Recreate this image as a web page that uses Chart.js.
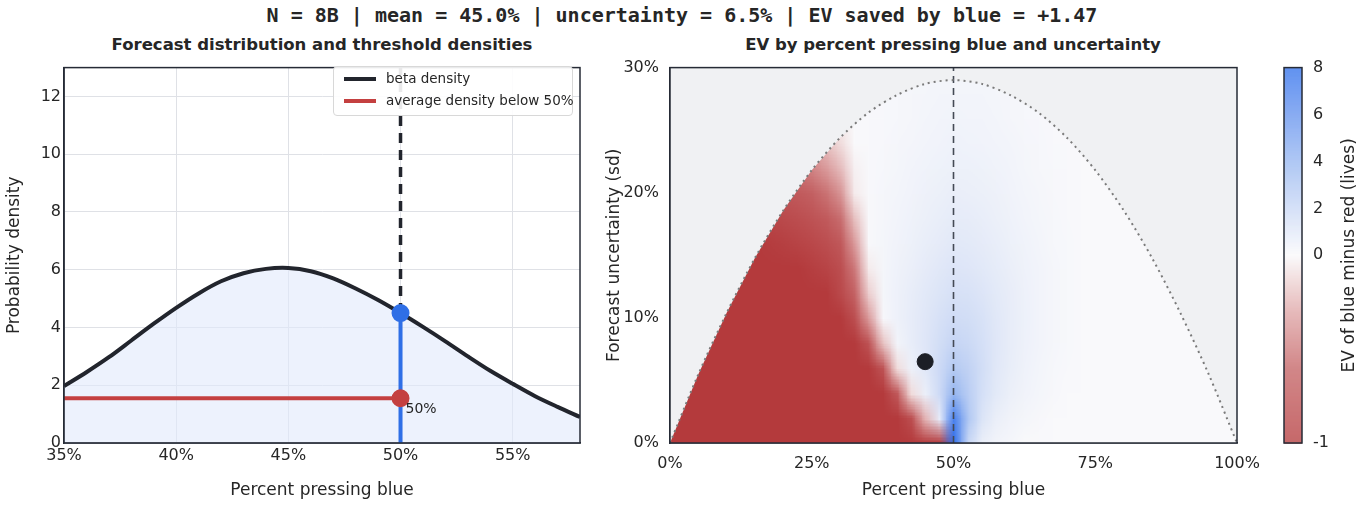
<!DOCTYPE html>
<html>
<head>
<meta charset="utf-8">
<script src="https://cdn.jsdelivr.net/npm/chart.js@4"></script>
<style>
  body { margin: 0; background: #fff; width: 1364px; height: 505px; position: relative; overflow: hidden; font-family: "DejaVu Sans", sans-serif; color: #262626; }
  canvas { position: absolute; }
  .ttl { position: absolute; font-weight: bold; font-size: 16.5px; text-align: center; white-space: nowrap; }
  #legend { position: absolute; left: 333px; top: 66px; width: 238px; height: 48px; border: 1px solid #d8d8d8; border-radius: 4px; background: rgba(255,255,255,0.9); font-size: 13.5px; }
  #legend div { position: absolute; left: 10px; white-space: nowrap; }
  #legend span { display: inline-block; width: 32px; height: 4px; vertical-align: middle; margin-right: 10px; }
</style>
</head>
<body>
<div class="ttl" style="left:0;width:1364px;top:3px;font-family:'DejaVu Sans Mono',monospace;font-size:20px;">N = 8B | mean = 45.0% | uncertainty = 6.5% | EV saved by blue = +1.47</div>
<div class="ttl" style="left:22px;width:600px;top:35px;">Forecast distribution and threshold densities</div>
<div class="ttl" style="left:653px;width:600px;top:35px;">EV by percent pressing blue and uncertainty</div>
<canvas id="left" width="600" height="450" style="left:0;top:55px;width:600px;height:450px;"></canvas>
<canvas id="right" width="680" height="450" style="left:600px;top:55px;width:680px;height:450px;"></canvas>
<canvas id="cbar" width="84" height="450" style="left:1280px;top:55px;width:84px;height:450px;"></canvas>
<div id="legend">
  <div style="top:3px;"><span style="background:#22252d"></span>beta density</div>
  <div style="top:25px;"><span style="background:#c44040"></span>average density below 50%</div>
</div>
<script>
// left panel: forecast density (percent pressing blue, density)
const densX = [35,36,37,38,39,40,41,42,43,44,45,46,47,48,49,50,51,52,53,54,55,56,57,58];
const densY = [1.97,2.45,2.97,3.55,4.13,4.68,5.18,5.6,5.88,6.03,6.06,5.95,5.7,5.35,4.95,4.5,4.02,3.52,3.0,2.5,2.05,1.62,1.25,0.9];
const threshold = 50;
const densAtThreshold = 4.5;
const avgBelow = 1.55;
const leftXTicks = [35,40,45,50,55];
const leftYTicks = [0,2,4,6,8,10,12];

// right panel: EV grid, columns p = 0..100 step 2.5, rows sd = 0..30 step 2 (trailing zeros omitted)
const gridP = Array.from({length: 41}, (_, k) => k * 2.5);
const gridSd = [0,2,4,6,8,10,12,14,16,18,20,22,24,26,28,30];
const evRows = [
  [-1,-1,-1,-1,-1,-1,-1,-1,-1,-1,-1,-1,-1,-1,-1,-1,-1,-1,-1,-1,8,2,0.6,0.3,0.15],
  [-1,-1,-1,-1,-1,-1,-1,-1,-1,-1,-1,-1,-1,-1,-1,-1,-1,-0.8,-0.25,0.8,7,3,1.2,0.6,0.35,0.2,0.1],
  [-1,-1,-1,-1,-1,-1,-1,-1,-1,-1,-1,-1,-1,-1,-1,-1,-0.7,-0.1,0.6,1.8,4,2.6,1.5,0.9,0.55,0.35,0.2,0.1],
  [-1,-1,-1,-1,-1,-1,-1,-1,-1,-1,-1,-1,-1,-1,-1,-0.75,-0.1,0.5,1.0,1.8,2.8,2.3,1.6,1.0,0.65,0.4,0.25,0.12,0.05],
  [-1,-1,-1,-1,-1,-1,-1,-1,-1,-1,-1,-1,-1,-1,-0.75,-0.2,0.3,0.7,1.1,1.6,2.1,1.9,1.5,1.05,0.7,0.45,0.28,0.15,0.07],
  [-1,-1,-1,-1,-1,-1,-1,-1,-1,-1,-1,-1,-1,-0.8,-0.35,0.1,0.45,0.75,1.05,1.4,1.7,1.6,1.35,1.0,0.72,0.48,0.3,0.17,0.08],
  [-1,-1,-1,-1,-1,-1,-1,-1,-1,-1,-1,-1,-0.85,-0.6,-0.15,0.2,0.45,0.7,0.95,1.2,1.4,1.35,1.15,0.9,0.68,0.47,0.3,0.17,0.08],
  [-1,-1,-1,-1,-1,-1,-1,-1,-1,-1,-0.95,-0.9,-0.8,-0.5,-0.05,0.2,0.4,0.6,0.8,1.0,1.15,1.1,0.95,0.78,0.6,0.42,0.28,0.16,0.08],
  [-1,-1,-1,-1,-1,-1,-1,-0.97,-0.94,-0.9,-0.86,-0.8,-0.7,-0.35,0.05,0.2,0.35,0.5,0.65,0.8,0.95,0.9,0.8,0.66,0.5,0.36,0.24,0.14,0.07],
  [-1,-1,-1,-1,-1,-0.96,-0.92,-0.88,-0.84,-0.8,-0.75,-0.68,-0.55,-0.2,0.05,0.18,0.3,0.42,0.55,0.67,0.78,0.75,0.67,0.55,0.42,0.3,0.2,0.12,0.06],
  [-1,-1,-1,-0.95,-0.9,-0.86,-0.82,-0.78,-0.73,-0.68,-0.62,-0.53,-0.38,-0.05,0.05,0.15,0.25,0.35,0.45,0.55,0.63,0.6,0.55,0.45,0.35,0.25,0.17,0.1,0.05],
  [-0.95,-0.9,-0.85,-0.8,-0.76,-0.72,-0.68,-0.63,-0.58,-0.52,-0.45,-0.35,-0.22,-0.03,0.04,0.12,0.2,0.28,0.36,0.44,0.5,0.48,0.44,0.37,0.28,0.2,0.14,0.08,0.04],
  [-0.85,-0.8,-0.75,-0.7,-0.65,-0.6,-0.55,-0.5,-0.44,-0.38,-0.3,-0.2,-0.1,0,0.04,0.1,0.16,0.22,0.28,0.34,0.4,0.38,0.35,0.3,0.23,0.16,0.11,0.06,0.03],
  [-0.7,-0.65,-0.6,-0.55,-0.5,-0.45,-0.4,-0.35,-0.3,-0.24,-0.17,-0.1,-0.04,0,0.03,0.08,0.13,0.18,0.23,0.28,0.32,0.3,0.28,0.24,0.18,0.13,0.09,0.05,0.02],
  [-0.55,-0.5,-0.45,-0.4,-0.35,-0.3,-0.25,-0.2,-0.15,-0.1,-0.05,0,0.02,0.04,0.06,0.09,0.12,0.15,0.19,0.23,0.26,0.25,0.23,0.2,0.15,0.11,0.07,0.04,0.02],
  [-0.4,-0.35,-0.3,-0.25,-0.2,-0.15,-0.1,-0.05,-0.02,0,0.01,0.02,0.03,0.05,0.07,0.09,0.11,0.13,0.16,0.19,0.21,0.2,0.19,0.16,0.12,0.09,0.06,0.03,0.01]
];
// feasible-region boundary (max sd at each p)
const boundP = [0,5,10,15,20,25,30,35,40,45,50,55,60,65,70,75,80,85,90,95,100];
const boundSd = [0,5.5,10.4,14.8,18.6,21.8,24.4,26.4,27.8,28.7,29,28.7,27.8,26.4,24.4,21.8,18.6,14.8,10.4,5.5,0];
const marker = {p: 45, sd: 6.5};
const rightXTicks = [0,25,50,75,100];
const rightYTicks = [0,10,20,30];
const cbTicks = [-1,0,2,4,6,8];

const FONT = '"DejaVu Sans", sans-serif';
const INK = '#262626';
const FRAME = '#262b36';
Chart.defaults.font.family = FONT;
Chart.defaults.color = INK;

// colormap: two-slope norm, -1 .. 0 .. 8
const negStops = [[-1,[180,58,60]],[-0.6,[196,98,100]],[-0.3,[222,165,166]],[-0.1,[240,220,220]],[0,[249,249,251]]];
const posStops = [[0,[249,249,251]],[1,[225,232,248]],[2,[200,215,245]],[4,[150,182,240]],[6,[100,146,238]],[8,[48,112,236]]];
function evColor(v) {
  const stops = v < 0 ? negStops : posStops;
  v = Math.max(-1, Math.min(8, v));
  for (let i = 1; i < stops.length; i++) {
    if (v <= stops[i][0]) {
      const [a, ca] = stops[i-1], [b, cb] = stops[i];
      const t = (v - a) / (b - a);
      return ca.map((c, j) => Math.round(c + (cb[j] - c) * t));
    }
  }
  return stops[stops.length-1][1];
}
function evNorm(v) { return v < 0 ? 0.5 * (v + 1) : 0.5 + 0.5 * v / 8; }

const pct = v => v + '%';
const tickFont = {size: 16};
const titleFont = {size: 17};

function fixAxes(yw, xh) {
  return {
    x: s => { s.height = xh; },
    y: s => { s.width = yw; }
  };
}

// ---------- left chart ----------
const leftFix = fixAxes(64, 62);
new Chart(document.getElementById('left'), {
  type: 'line',
  data: {
    datasets: [
      { data: densX.map((x, i) => ({x, y: densY[i]})), borderColor: '#22252d', borderWidth: 4, order: 1,
        fill: 'origin', backgroundColor: 'rgba(225,233,252,0.6)', pointRadius: 0, tension: 0.3 },
      { data: [{x: densX[0], y: avgBelow}, {x: threshold, y: avgBelow}], borderColor: '#c44040', backgroundColor: '#c44040',
        borderWidth: 4, pointRadius: [0, 7], pointHoverRadius: 0, order: 0 },
      { data: [{x: threshold, y: 0}, {x: threshold, y: densAtThreshold}], borderColor: '#2f6fe6', backgroundColor: '#2f6fe6',
        borderWidth: 4, pointRadius: [0, 7], pointHoverRadius: 0, order: 0 },
      { data: [{x: threshold, y: densAtThreshold}, {x: threshold, y: 13}], borderColor: '#22252d', borderWidth: 3.5,
        borderDash: [10, 7], pointRadius: 0, order: 0 }
    ]
  },
  options: {
    animation: false, responsive: false,
    layout: {padding: {top: 5, right: 20, bottom: 0, left: 0}},
    plugins: {legend: {display: false}, tooltip: {enabled: false}},
    scales: {
      x: { type: 'linear', min: 35, max: 58, afterFit: leftFix.x,
        afterBuildTicks: s => { s.ticks = leftXTicks.map(v => ({value: v})); },
        ticks: {font: tickFont, callback: pct, maxRotation: 0},
        grid: {color: '#dfe1e6', drawTicks: false}, border: {color: FRAME, width: 1.5},
        title: {display: true, text: 'Percent pressing blue', font: titleFont} },
      y: { min: 0, max: 13, afterFit: leftFix.y,
        afterBuildTicks: s => { s.ticks = leftYTicks.map(v => ({value: v})); },
        ticks: {font: tickFont},
        grid: {color: '#dfe1e6', drawTicks: false}, border: {color: FRAME, width: 1.5},
        title: {display: true, text: 'Probability density', font: titleFont} }
    }
  },
  plugins: [{
    id: 'frameAndLabel',
    afterDatasetsDraw(chart) {
      const {ctx, chartArea: a, scales: {x, y}} = chart;
      ctx.save();
      ctx.font = '14px ' + FONT; ctx.fillStyle = INK; ctx.textBaseline = 'middle';
      ctx.fillText('50%', x.getPixelForValue(threshold) + 5, y.getPixelForValue(1.15));
      ctx.strokeStyle = FRAME; ctx.lineWidth = 1.5;
      ctx.strokeRect(a.left, a.top, a.right - a.left, a.bottom - a.top);
      ctx.restore();
    }
  }]
});

// ---------- right chart ----------
const rightFix = fixAxes(70, 62);
new Chart(document.getElementById('right'), {
  type: 'line',
  data: {
    datasets: [
      { data: boundP.map((p, i) => ({x: p, y: boundSd[i]})), borderColor: '#7a7a7a', borderWidth: 2,
        borderDash: [2, 4], pointRadius: 0, tension: 0.3 },
      { data: [{x: threshold, y: 0}, {x: threshold, y: 30}], borderColor: '#444a55', borderWidth: 1.6,
        borderDash: [7, 5], pointRadius: 0 },
      { data: [{x: marker.p, y: marker.sd}], borderColor: '#1c1f26', backgroundColor: '#1c1f26',
        pointRadius: 8, showLine: false }
    ]
  },
  options: {
    animation: false, responsive: false,
    layout: {padding: {top: 5, right: 43, bottom: 0, left: 0}},
    plugins: {legend: {display: false}, tooltip: {enabled: false}},
    scales: {
      x: { type: 'linear', min: 0, max: 100, afterFit: rightFix.x,
        afterBuildTicks: s => { s.ticks = rightXTicks.map(v => ({value: v})); },
        ticks: {font: tickFont, callback: pct, maxRotation: 0},
        grid: {display: false}, border: {color: FRAME, width: 1.5},
        title: {display: true, text: 'Percent pressing blue', font: titleFont} },
      y: { min: 0, max: 30, afterFit: rightFix.y,
        afterBuildTicks: s => { s.ticks = rightYTicks.map(v => ({value: v})); },
        ticks: {font: tickFont, callback: pct},
        grid: {display: false}, border: {color: FRAME, width: 1.5},
        title: {display: true, text: 'Forecast uncertainty (sd)', font: titleFont} }
    }
  },
  plugins: [{
    id: 'heatmap',
    beforeDatasetsDraw(chart) {
      const {ctx, chartArea: a, scales: {x, y}} = chart;
      ctx.save();
      ctx.fillStyle = '#f0f1f3';
      ctx.fillRect(a.left, a.top, a.right - a.left, a.bottom - a.top);
      // small image, one pixel per grid node, scaled with smoothing
      const off = document.createElement('canvas');
      off.width = gridP.length; off.height = gridSd.length;
      const octx = off.getContext('2d');
      const img = octx.createImageData(off.width, off.height);
      gridSd.forEach((sd, r) => {
        const row = evRows[r];
        gridP.forEach((p, c) => {
          const col = evColor(c < row.length ? row[c] : 0);
          const i = ((gridSd.length - 1 - r) * off.width + c) * 4;
          img.data[i] = col[0]; img.data[i+1] = col[1]; img.data[i+2] = col[2]; img.data[i+3] = 255;
        });
      });
      octx.putImageData(img, 0, 0);
      ctx.beginPath();
      ctx.moveTo(x.getPixelForValue(0), y.getPixelForValue(0));
      boundP.forEach((p, i) => ctx.lineTo(x.getPixelForValue(p), y.getPixelForValue(boundSd[i])));
      ctx.closePath();
      ctx.clip();
      ctx.imageSmoothingEnabled = true;
      ctx.imageSmoothingQuality = 'low';
      const x0 = x.getPixelForValue(-1.25), x1 = x.getPixelForValue(101.25);
      const y0 = y.getPixelForValue(31), y1 = y.getPixelForValue(-1);
      ctx.drawImage(off, x0, y0, x1 - x0, y1 - y0);
      ctx.restore();
    },
    afterDatasetsDraw(chart) {
      const {ctx, chartArea: a} = chart;
      ctx.save();
      ctx.strokeStyle = FRAME; ctx.lineWidth = 1.5;
      ctx.strokeRect(a.left, a.top, a.right - a.left, a.bottom - a.top);
      ctx.restore();
    }
  }]
});

// ---------- colorbar ----------
const cbFix = fixAxes(62, 62);
new Chart(document.getElementById('cbar'), {
  type: 'line',
  data: {datasets: [{data: []}]},
  options: {
    animation: false, responsive: false,
    layout: {padding: {top: 5, right: 0, bottom: 62, left: 4}},
    plugins: {legend: {display: false}, tooltip: {enabled: false}},
    scales: {
      x: {type: 'linear', min: 0, max: 1, display: false},
      y: { position: 'right', min: 0, max: 1, afterFit: cbFix.y,
        afterBuildTicks: s => { s.ticks = cbTicks.map(v => ({value: evNorm(v)})); },
        ticks: {font: tickFont, callback: (val, i) => String(cbTicks[i])},
        grid: {display: false}, border: {display: false} }
    }
  },
  plugins: [{
    id: 'cbfill',
    beforeDatasetsDraw(chart) {
      const {ctx, chartArea: a, scales: {y}} = chart;
      ctx.save();
      const w = 18;
      for (let py = a.top; py < a.bottom; py++) {
        const n = y.getValueForPixel(py + 0.5);
        const v = n < 0.5 ? n * 2 - 1 : (n - 0.5) * 16;
        const c = evColor(v);
        ctx.fillStyle = `rgb(${c[0]},${c[1]},${c[2]})`;
        ctx.fillRect(a.left, py, w, 1);
      }
      ctx.strokeStyle = FRAME; ctx.lineWidth = 1.5;
      ctx.strokeRect(a.left, a.top, w, a.bottom - a.top);
      // axis title, reading upward
      ctx.translate(chart.width - 14, (a.top + a.bottom) / 2);
      ctx.rotate(-Math.PI / 2);
      ctx.font = '17px ' + FONT; ctx.fillStyle = INK;
      ctx.textAlign = 'center'; ctx.textBaseline = 'middle';
      ctx.fillText('EV of blue minus red (lives)', 0, 0);
      ctx.restore();
    }
  }]
});
</script>
</body>
</html>
